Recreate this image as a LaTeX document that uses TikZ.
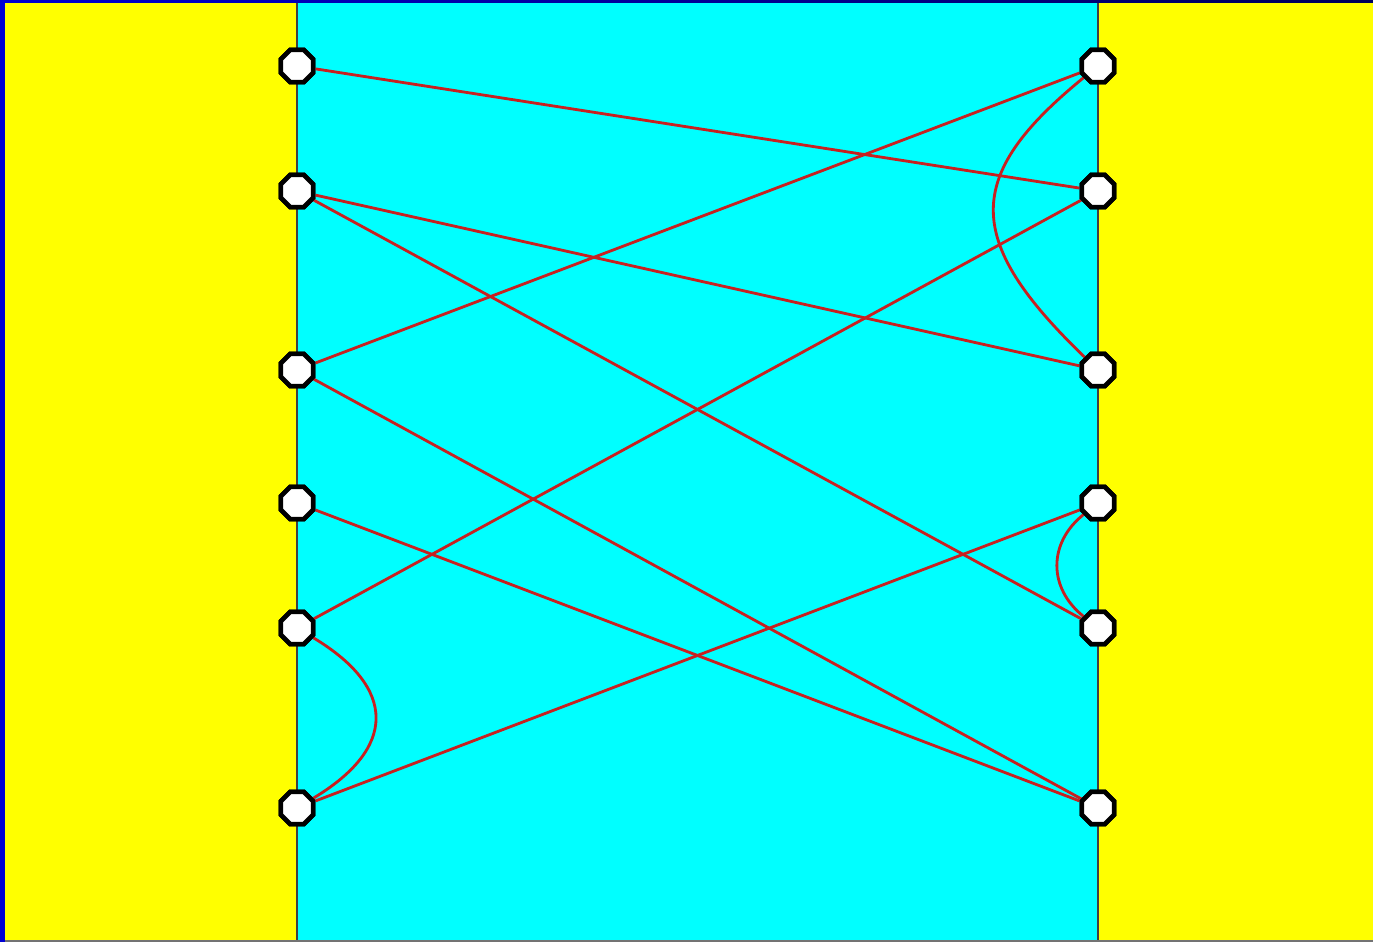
\documentclass[tikz,border=0pt]{standalone}
\usetikzlibrary{shapes.geometric}
\definecolor{wirered}{RGB}{200,32,32}
\definecolor{panelblue}{RGB}{0,0,210}
\definecolor{panelnavy}{RGB}{0,0,90}
\definecolor{sideyellow}{RGB}{255,255,0}
\definecolor{midcyan}{RGB}{0,255,255}
\tikzset{
    terminal/.style = {regular polygon, regular polygon sides=8, minimum size=0.35cm, inner sep=0pt, draw=black, line width=1.3pt, fill=white},
    wire/.style = {line width=0.8pt, draw=wirered},
    rail/.style = {line width=0.4pt, draw=black!75}
}

\begin{document}
\begin{tikzpicture}
	\useasboundingbox (0, 0) rectangle (13.73, 9.42);

	% background panels
	\fill[sideyellow] (0, 0) rectangle (13.73, 9.42);
	\fill[midcyan] (2.97, 0) rectangle (10.98, 9.42);
	\draw[rail] (2.97, 0) -- (2.97, 9.39);
	\draw[rail] (10.98, 0) -- (10.98, 9.39);
	\fill[left color=panelblue, right color=panelnavy] (0, 9.39) rectangle (13.73, 9.42);
	\fill[panelblue] (0, 0) rectangle (0.05, 9.42);
	\fill[black!55] (0.05, 0) rectangle (13.73, 0.015);

	% terminals
	\node[terminal] (L1) at (2.97, 8.76) {};
	\node[terminal] (L2) at (2.97, 7.51) {};
	\node[terminal] (L3) at (2.97, 5.72) {};
	\node[terminal] (L4) at (2.97, 4.39) {};
	\node[terminal] (L5) at (2.97, 3.14) {};
	\node[terminal] (L6) at (2.97, 1.34) {};

	\node[terminal] (R1) at (10.98, 8.76) {};
	\node[terminal] (R2) at (10.98, 7.51) {};
	\node[terminal] (R3) at (10.98, 5.72) {};
	\node[terminal] (R4) at (10.98, 4.39) {};
	\node[terminal] (R5) at (10.98, 3.14) {};
	\node[terminal] (R6) at (10.98, 1.34) {};

	% straight wires
	\draw[wire] (L1) -- (R2);
	\draw[wire] (L2) -- (R3);
	\draw[wire] (L2) -- (R5);
	\draw[wire] (L3) -- (R1);
	\draw[wire] (L3) -- (R6);
	\draw[wire] (L4) -- (R6);
	\draw[wire] (L5) -- (R2);
	\draw[wire] (L6) -- (R4);

	% curved wires
	\draw[wire] (L5) .. controls +(1.0, -0.6) and +(1.0, 0.6) .. (L6);
	\draw[wire] (R1) .. controls +(-1.35, -1.1) and +(-1.35, 1.3) .. (R3);
	\draw[wire] (R4) .. controls +(-0.5, -0.4) and +(-0.5, 0.4) .. (R5);

	% redraw terminals on top
	\foreach \n in {L1, L2, L3, L4, L5, L6, R1, R2, R3, R4, R5, R6}
		\node[terminal] at (\n) {};
\end{tikzpicture}
\end{document}
